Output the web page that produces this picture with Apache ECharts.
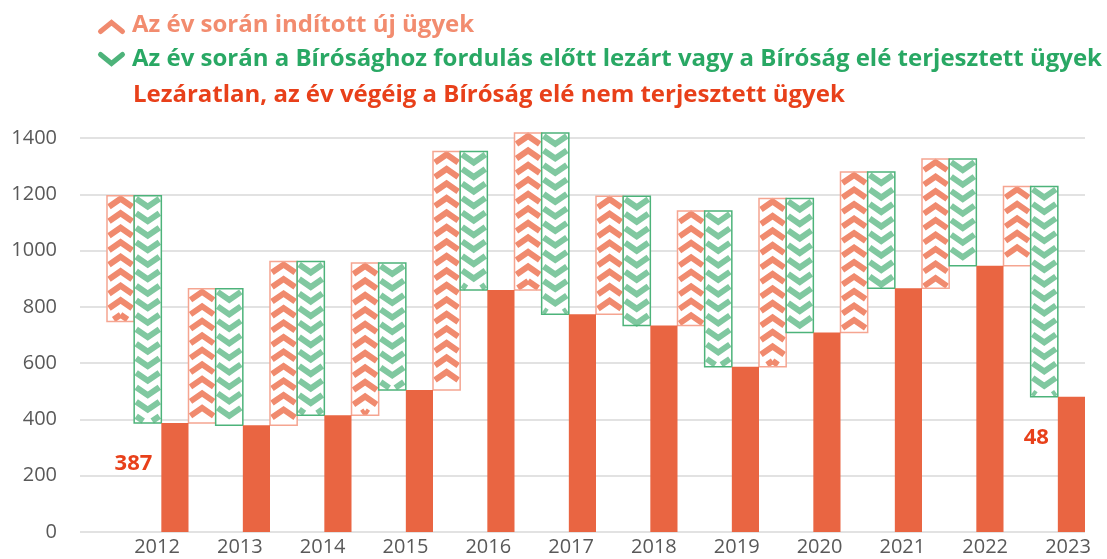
<!DOCTYPE html>
<html>
<head>
<meta charset="utf-8">
<script src="https://cdn.jsdelivr.net/npm/echarts@6/dist/echarts.min.js"></script>
<style>
  html, body { margin: 0; padding: 0; background: #fff; }
  #chart { width: 1107px; height: 559px; }
</style>
</head>
<body>
<div id="chart"></div>
<script>
// ügyek: nyitó állomány, nyitó + új ügyek, záró állomány (leolvasva)
const years = ['2012', '2013', '2014', '2015', '2016', '2017', '2018', '2019', '2020', '2021', '2022', '2023'];
const opening = [748, 387, 379, 415, 505, 860, 774, 734, 587, 709, 866, 946];
const peak = [1195, 864, 961, 956, 1352, 1418, 1193, 1141, 1185, 1279, 1325, 1228];
const ending = [387, 379, 415, 505, 860, 774, 734, 587, 709, 866, 946, 481];
const endLabels = ['387', '', '', '', '', '', '', '', '', '', '', '48'];

const names = [
  'Az év során indított új ügyek',
  'Az év során a Bírósághoz fordulás előtt lezárt vagy a Bíróság elé terjesztett ügyek',
  'Lezáratlan, az év végéig a Bíróság elé nem terjesztett ügyek'
];

const SALMON = '#f08a6e', SALMON_EDGE = '#f5a591', SALMON_TXT = '#f28c6f';
const GREEN = '#80c8a0', GREEN_EDGE = '#4db37a', GREEN_TXT = '#29a864';
const RED = '#e96542', RED_TXT = '#e8401a';

// szakasz vágása függőleges sávra
function clipSeg(a, b, top, bot) {
  let [x1, y1] = a, [x2, y2] = b;
  if ((y1 < top && y2 < top) || (y1 > bot && y2 > bot)) return null;
  const cut = (yy) => {
    const t = (yy - y1) / (y2 - y1);
    return [x1 + (x2 - x1) * t, yy];
  };
  let p = [x1, y1], q = [x2, y2];
  if (y1 < top) p = cut(top); else if (y1 > bot) p = cut(bot);
  if (y2 < top) q = cut(top); else if (y2 > bot) q = cut(bot);
  return [p, q];
}

function chevrons(x, top, bot, w, up, color) {
  const out = [];
  const period = 14.5, rise = 8, lw = 6, inset = 2;
  const xl = x + inset, xr = x + w - inset, xc = x + w / 2;
  const style = { stroke: color, lineWidth: lw, fill: 'rgba(0,0,0,0)', lineJoin: 'miter', lineCap: 'butt' };
  for (let y = top + 3; y < bot - 2; y += period) {
    // up: csúcs fent, szárak lent; down: szárak fent, csúcs lent
    const apex = up ? [xc, y] : [xc, y + rise];
    const l = up ? [xl, y + rise] : [xl, y];
    const r = up ? [xr, y + rise] : [xr, y];
    const inside = [apex, l, r].every(p => p[1] >= top + 2 && p[1] <= bot - 2);
    if (inside) {
      out.push({ type: 'polyline', silent: true, shape: { points: [l, apex, r] }, style: style });
    } else {
      [[l, apex], [apex, r]].forEach(seg => {
        const c = clipSeg(seg[0], seg[1], top + 2, bot - 2);
        if (c && Math.abs(c[1][1] - c[0][1]) > 2) {
          out.push({ type: 'line', silent: true, shape: { x1: c[0][0], y1: c[0][1], x2: c[1][0], y2: c[1][1] }, style: style });
        }
      });
    }
  }
  return out;
}

function makeRender(slot, kind) {
  return function (params, api) {
    const idx = api.value(0);
    const lo = api.coord([idx, api.value(1)]);
    const hi = api.coord([idx, api.value(2)]);
    const w = api.size([1, 0])[0] / 3;
    const x = lo[0] - 1.5 * w + slot * w;
    const top = hi[1], bot = lo[1];
    const h = bot - top;
    if (kind === 'solid') {
      const children = [{ type: 'rect', shape: { x: x, y: top, width: w, height: h }, style: { fill: RED } }];
      const txt = endLabels[idx];
      if (txt) {
        children.push({
          type: 'text', silent: true,
          style: {
            x: x - 9, y: top + 41, text: txt, align: 'right', verticalAlign: 'middle',
            fill: RED_TXT, font: 'bold 22px "Open Sans", sans-serif'
          }
        });
      }
      return { type: 'group', children: children };
    }
    const up = kind === 'up';
    const edge = up ? SALMON_EDGE : GREEN_EDGE;
    const col = up ? SALMON : GREEN;
    return {
      type: 'group',
      children: [
        { type: 'rect', shape: { x: x, y: top, width: w, height: h }, style: { fill: '#fff' } }
      ].concat(chevrons(x, top, bot, w, up, col)).concat([
        { type: 'rect', shape: { x: x, y: top, width: w, height: h }, style: { fill: 'rgba(0,0,0,0)', stroke: edge, lineWidth: 1.5 } }
      ])
    };
  };
}

const chart = echarts.init(document.getElementById('chart'));

const legendFont = 'bold 24px "Open Sans", sans-serif';

chart.setOption({
  animation: false,
  grid: [
    { left: 80, right: 22, top: 138, bottom: 27 },
    { left: 107, right: 22, top: 138, bottom: 27 },
    { left: 157, right: 39, top: 138, bottom: 27 }
  ],
  xAxis: [
    { gridIndex: 0, type: 'category', data: years, show: false },
    { gridIndex: 1, type: 'category', data: years, show: false },
    {
      gridIndex: 2, type: 'category', data: years, boundaryGap: false,
      axisLine: { show: false }, axisTick: { show: false },
      axisLabel: { margin: 5, color: '#595959', fontSize: 20, fontFamily: '"Open Sans", sans-serif', interval: 0 }
    }
  ],
  yAxis: [
    {
      gridIndex: 0, type: 'value', min: 0, max: 1400, interval: 200,
      axisLine: { show: false }, axisTick: { show: false },
      axisLabel: { margin: 23, color: '#595959', fontSize: 20, fontFamily: '"Open Sans", sans-serif', formatter: v => String(v) },
      splitLine: { lineStyle: { color: '#d9d9d9', width: 1.5 } }
    },
    { gridIndex: 1, type: 'value', min: 0, max: 1400, show: false },
    { gridIndex: 2, type: 'value', min: 0, max: 1400, show: false }
  ],
  graphic: [
    { type: 'polyline', left: 98, top: 20, shape: { points: [[0, 10], [11, 1], [22, 10]] }, style: { stroke: SALMON, lineWidth: 5, fill: 'rgba(0,0,0,0)', lineCap: 'round' } },
    { type: 'text', left: 132, top: 13, style: { text: names[0], fill: SALMON_TXT, font: legendFont } },
    { type: 'polyline', left: 98, top: 52, shape: { points: [[0, 1], [11, 10], [22, 1]] }, style: { stroke: GREEN_EDGE, lineWidth: 5, fill: 'rgba(0,0,0,0)', lineCap: 'round' } },
    { type: 'text', left: 132, top: 47, style: { text: names[1], fill: GREEN_TXT, font: legendFont } },
    { type: 'text', left: 133, top: 83, style: { text: names[2], fill: RED_TXT, font: legendFont } }
  ],
  series: [
    {
      name: names[0], type: 'custom', xAxisIndex: 1, yAxisIndex: 1,
      renderItem: makeRender(0, 'up'),
      encode: { x: 0, y: [1, 2] },
      data: years.map((y, i) => [i, opening[i], peak[i]])
    },
    {
      name: names[1], type: 'custom', xAxisIndex: 1, yAxisIndex: 1,
      renderItem: makeRender(1, 'down'),
      encode: { x: 0, y: [1, 2] },
      data: years.map((y, i) => [i, ending[i], peak[i]])
    },
    {
      name: names[2], type: 'custom', xAxisIndex: 1, yAxisIndex: 1,
      renderItem: makeRender(2, 'solid'),
      encode: { x: 0, y: [1, 2] },
      data: years.map((y, i) => [i, 0, ending[i]])
    }
  ]
});
</script>
</body>
</html>
